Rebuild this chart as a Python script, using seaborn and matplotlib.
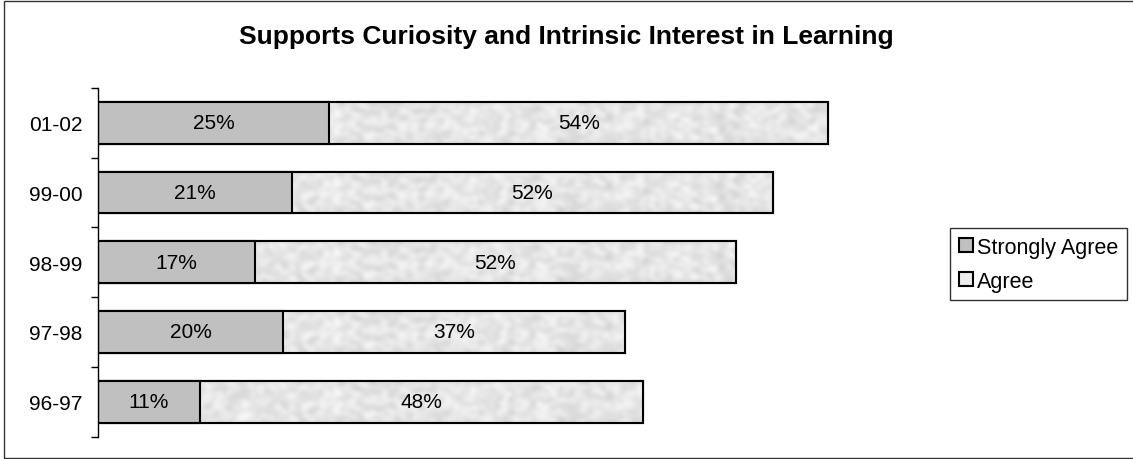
import numpy as np
import pandas as pd
import matplotlib
matplotlib.use("Agg")
import matplotlib.pyplot as plt
import seaborn as sns
from matplotlib.patches import Rectangle
from matplotlib.lines import Line2D

# Survey results by school year (percent of respondents)
years = ["01-02", "99-00", "98-99", "97-98", "96-97"]
strongly_agree = [25, 21, 17, 20, 11]
agree = [54, 52, 52, 37, 48]
series_names = ["Strongly Agree", "Agree"]

df = pd.DataFrame({"year": years, "strong": strongly_agree, "agree": agree})
df["total"] = df["strong"] + df["agree"]

sns.set_theme(style="white")
plt.rcParams["font.family"] = ["Liberation Sans", "DejaVu Sans"]
plt.rcParams["text.color"] = "black"
plt.rcParams["ytick.labelcolor"] = "black"
plt.rcParams["xtick.labelcolor"] = "black"

W, H, DPI = 1133, 460, 100
fig = plt.figure(figsize=(W / DPI, H / DPI), dpi=DPI)
fig.patch.set_facecolor("white")

# outer chart frame
fig.add_artist(Rectangle((4 / W, 1 - 459 / H), 1.2, (459 - 2) / H,
                         transform=fig.transFigure, fill=False,
                         edgecolor="#333333", linewidth=1.0))

ax_left, ax_right = 98 / W, (98 + 795) / W
ax_top, ax_bot = 1 - 89 / H, 1 - 437.5 / H
ax = fig.add_axes([ax_left, ax_bot, ax_right - ax_left, ax_top - ax_bot])

SA_COLOR = "#C0C0C0"
AG_COLOR = "#EDEDED"

# full bar (Agree segment sits behind the Strongly Agree segment)
sns.barplot(data=df, y="year", x="total", order=years, orient="h",
            color=AG_COLOR, saturation=1, width=0.6,
            edgecolor="black", linewidth=1.5, ax=ax)
n_total = len(ax.patches)
sns.barplot(data=df, y="year", x="strong", order=years, orient="h",
            color=SA_COLOR, saturation=1, width=0.6,
            edgecolor="black", linewidth=1.5, ax=ax)

ax.set_xlim(0, 86)
ax.set_ylim(4.5, -0.5)

# speckled fill for the Agree segments
rng = np.random.default_rng(7)
noise = rng.random((16, 260))
k = np.array([0.25, 0.5, 0.25])
noise = np.apply_along_axis(lambda r: np.convolve(r, k, mode="same"), 1, noise)
noise = np.apply_along_axis(lambda c: np.convolve(c, k, mode="same"), 0, noise)
noise = (noise - noise.min()) / (noise.max() - noise.min())
for p in ax.patches[:n_total]:
    y0, h = p.get_y(), p.get_height()
    img = ax.imshow(noise, cmap="gray", vmin=-4.2, vmax=1.1,
                    extent=(0, 86, y0 + h, y0), aspect="auto",
                    interpolation="bicubic", zorder=p.get_zorder() + 0.1)
    img.set_clip_path(p)
# bar outlines above the texture
for p in ax.patches[:n_total]:
    ax.add_patch(Rectangle((p.get_x(), p.get_y()), p.get_width(), p.get_height(),
                           fill=False, edgecolor="black", linewidth=1.5,
                           zorder=p.get_zorder() + 0.2))
for p in ax.patches[n_total:2 * n_total]:
    p.set_zorder(p.get_zorder() + 0.5)

# value labels
for i, (s, a) in enumerate(zip(strongly_agree, agree)):
    ax.text(s / 2, i, f"{s}%", ha="center", va="center", fontsize=15,
            color="black", zorder=10)
    ax.text(s + a / 2, i, f"{a}%", ha="center", va="center", fontsize=15,
            color="black", zorder=10)

# axes styling: only the category axis line with boundary ticks
for side in ["top", "right", "bottom"]:
    ax.spines[side].set_visible(False)
ax.spines["left"].set_color("black")
ax.spines["left"].set_linewidth(1.0)
ax.set_xticks([])
ax.set_yticks(range(len(years)))
ax.set_yticklabels(years, fontsize=15, color="black")
ax.tick_params(axis="y", length=0, pad=11)
ax.set_yticks(np.arange(-0.5, len(years), 1.0), minor=True)
ax.tick_params(axis="y", which="minor", length=5, width=1.0, color="black",
               direction="out", left=True)
ax.set_xlabel("")
ax.set_ylabel("")
ax.set_facecolor("white")

fig.text(566 / W, 1 - 37 / H, "Supports Curiosity and Intrinsic Interest in Learning",
         ha="center", va="center", fontsize=19, fontweight="bold", color="black")

handles = [Line2D([], [], marker="s", linestyle="none", markersize=10,
                  markerfacecolor=SA_COLOR, markeredgecolor="black", markeredgewidth=1.5),
           Line2D([], [], marker="s", linestyle="none", markersize=10,
                  markerfacecolor=AG_COLOR, markeredgecolor="black", markeredgewidth=1.5)]
leg = fig.legend(handles, series_names, loc="upper left",
                 bbox_to_anchor=(950 / W, 1 - 229 / H), fontsize=15.5,
                 frameon=True, fancybox=False, edgecolor="black",
                 handlelength=0.7, handletextpad=0.15, borderpad=0.4,
                 labelspacing=0.6, borderaxespad=0)
leg.get_frame().set_linewidth(1.0)
for t in leg.get_texts():
    t.set_color("black")

fig.savefig("out.png", dpi=DPI)
